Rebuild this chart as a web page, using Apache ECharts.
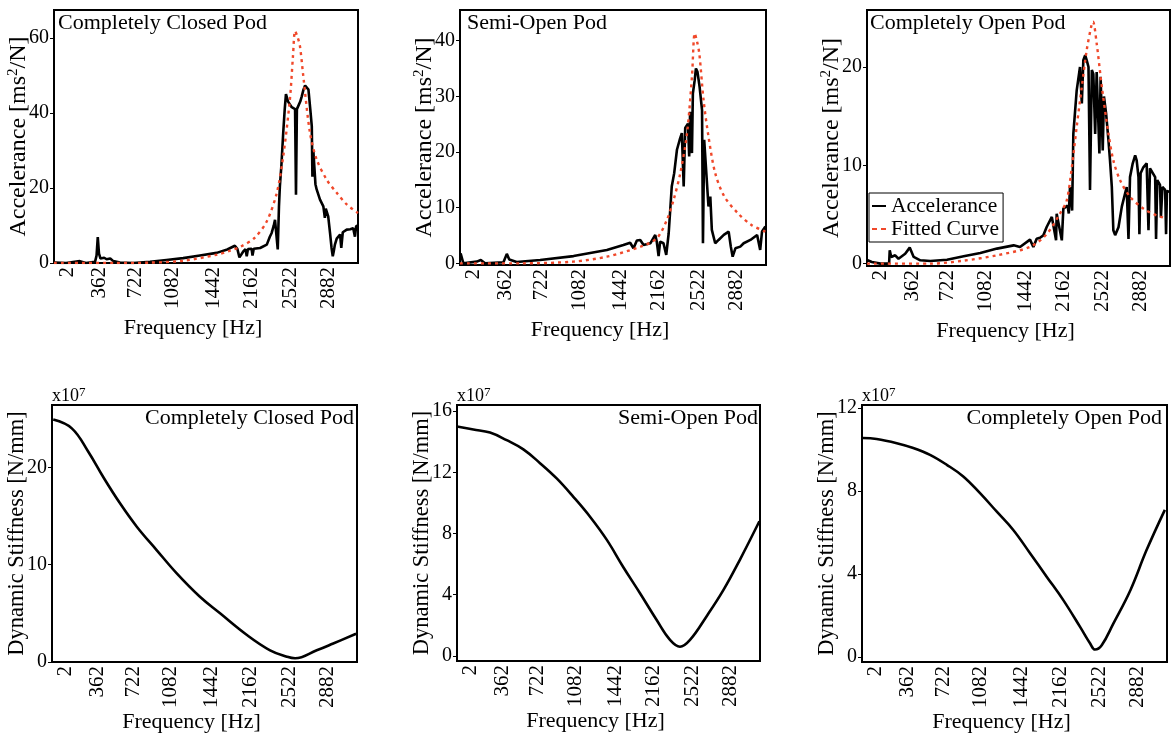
<!DOCTYPE html>
<html>
<head>
<meta charset="utf-8">
<script src="https://cdn.jsdelivr.net/npm/echarts@6/dist/echarts.min.js"></script>
<style>
  html, body { margin: 0; padding: 0; background: #fff; }
  #chart { width: 1174px; height: 735px; }
</style>
</head>
<body>
<div id="chart"></div>
<script>
// Frequency axis: sweep position (0-100) with the printed tick labels
const X_TICK_POS = [4.4, 15.0, 26.7, 39.0, 52.3, 65.0, 77.8, 90.3];
const X_TICK_LABELS = ['2', '362', '722', '1082', '1442', '2162', '2522', '2882'];

const PANEL_TITLES = ['Completely Closed Pod', 'Semi-Open Pod', 'Completely Open Pod'];

// Accelerance [ms^2/N] – measured (black) and fitted (red)
const closedAcc = [[0.3,0.1],[4,0],[8.5,0.5],[10.5,0],[13.5,0.3],[14.0,2.0],[14.4,6.9],[14.8,2.5],[15.3,1.2],[16.5,1.4],[17.3,1.0],[18.5,1.2],[19.5,0.5],[21.7,0.1],[26,0],[31.6,0.3],[37,0.8],[42.5,1.3],[48,2.0],[53.5,2.7],[57,3.6],[59.5,4.6],[60.3,3.8],[61.0,1.5],[61.5,1.1],[62.2,3.0],[63.0,3.7],[63.4,1.8],[63.8,3.7],[65,3.8],[65.3,2.0],[65.7,3.8],[67.8,4.0],[70.0,4.9],[71.0,7.0],[71.6,8.0],[72.3,10],[72.7,11.5],[73.2,12],[73.6,3.6],[74.0,15],[74.3,20.4],[74.8,26],[75.4,34.7],[75.9,41],[76.3,45],[77.0,43],[77.6,42.5],[78.2,41.5],[78.7,41.8],[79.3,41],[79.6,18.2],[79.9,41],[80.4,41],[81.0,43],[81.5,44.4],[82.0,46],[82.6,47.3],[83.1,47],[83.7,46.2],[84.3,41],[84.8,36.4],[85.0,23],[85.3,30],[86.0,21],[86.4,19.6],[87.5,16.9],[88.6,15.1],[89.1,12],[89.4,14.5],[90.2,12.4],[90.8,8],[91.3,4],[91.7,1.8],[92.0,3],[92.4,4.9],[93,6.5],[94.1,7.6],[94.5,4.0],[95,8.2],[96.3,8.9],[97.5,9.0],[98.4,9.3],[99.0,7],[99.4,9.8],[100,10]];
const closedFit = [[0,0],[20,0],[31.6,0.1],[42.5,0.6],[53.5,2.2],[58,3.3],[61.5,4.4],[66,6.7],[70,11.1],[73.3,18.7],[75.4,28.4],[77.6,43.6],[78.6,55],[79.3,61.8],[80.0,60.5],[80.9,57.8],[82.0,49.8],[84.2,34.7],[86.4,27.6],[89.7,22.2],[93,18.7],[96.3,15.6],[100,13.3]];

const semiAcc = [[0.2,1.8],[1.1,0],[5.5,0.3],[6.8,0.6],[8.2,0],[14.2,0.2],[15.3,1.7],[16.1,0.7],[18.5,0.25],[26.2,0.6],[37.1,1.3],[48.0,2.4],[53.4,3.3],[55.6,3.7],[56.7,2.7],[57.8,4.1],[58.9,4.2],[60.0,3.3],[62.2,3.6],[63.8,5.1],[64.3,3.9],[64.9,1.3],[65.4,3.9],[66.5,3.6],[67.4,1.5],[68.2,5.4],[69.2,13.8],[70.0,16.2],[70.9,20.4],[71.8,22.2],[72.5,23.4],[73.1,13.8],[73.6,24.3],[74.5,25.1],[74.9,19.2],[75.2,27.2],[75.8,19.8],[76.1,30.5],[76.7,32.9],[77.1,35],[77.6,34.4],[78.3,31.7],[79.1,27.5],[79.4,3.6],[79.8,22.2],[80.5,16.2],[81.2,10.2],[81.8,12],[82.3,6],[83.4,3.6],[84.5,4.2],[86.2,5.1],[87.8,5.7],[88.5,3],[89.1,1.2],[90.0,2.7],[91.6,3],[92.7,3.6],[94.9,4.2],[97.1,5.1],[98.1,2.4],[98.7,5.7],[99.8,6.6]];
const semiFit = [[0,0],[20,0],[37,0.3],[48,1.2],[59,3],[64.3,4.5],[67.6,7.8],[69.8,11.4],[72,16.2],[74.2,23.4],[75.8,33.5],[76.7,41.3],[77.4,40],[78.2,37.7],[79.6,29.3],[81.2,22.8],[83.4,16.2],[86.4,12],[90.8,9],[95.2,6.9],[99.8,5.7]];

const openAcc = [[0.2,0.34],[1.6,0.17],[4.4,0],[6.6,0],[7.3,0.07],[7.5,1.36],[8.0,0.68],[9.3,0.85],[10.4,0.5],[12.6,1.0],[14.1,1.63],[15.4,0.68],[17.6,0.34],[20.9,0.27],[26.4,0.4],[31.9,0.75],[37.4,1.08],[42.9,1.53],[48.4,1.86],[50.5,1.7],[53.8,2.44],[54.9,1.7],[56.0,2.54],[57.1,2.64],[58.2,2.88],[59.3,3.73],[61.0,4.75],[62.4,2.37],[62.6,5.08],[64.3,2.37],[64.8,5.6],[66.2,5.9],[66.6,5.1],[67.0,7.8],[67.7,5.4],[68.1,13.2],[69.2,17.6],[70.3,20],[70.9,16.3],[71.4,20.7],[72.0,21.2],[72.5,20.7],[73.1,20],[73.6,7.5],[74.2,19.7],[74.7,19.3],[75.3,13.2],[75.8,19.5],[76.4,19.7],[76.7,11.2],[77.1,19],[77.8,11.5],[78.2,17],[78.9,15.3],[79.7,12.5],[80.2,10.5],[80.8,7.8],[81.3,3.4],[81.9,2.9],[82.4,3],[83.0,3.7],[84.1,5.8],[85.7,7.8],[86.3,2.5],[86.8,8.8],[87.7,10.2],[88.5,11],[89.0,10.5],[89.6,8.8],[89.9,3],[90.3,9.2],[91.2,9.8],[92.3,10.2],[92.9,3.4],[93.4,9.7],[95.1,8.8],[95.4,2.5],[95.8,8.5],[96.7,8],[97.0,4.7],[97.5,7.8],[98.4,7.5],[98.7,3],[99.0,7.4],[99.8,7.3]];
const openFit = [[0,0],[20.9,0],[31.9,0.3],[42.9,0.85],[53.8,1.7],[59.3,3],[63.7,5.1],[65.9,6.4],[67.6,9.8],[69.2,13.9],[70.9,18],[72.5,21.7],[74.2,24.4],[74.6,24.6],[75.8,22.4],[77.5,18],[79.7,13.2],[81.3,10.5],[83.5,8.5],[86.8,6.8],[91.2,5.6],[95.6,4.9],[98.9,4.6]];

// Dynamic stiffness [N/mm] in units of 1e7
const closedStiff = [[0.4,24.9],[6.5,24.0],[11.9,21.6],[16.8,19.0],[22.3,16.3],[27.8,13.9],[34.3,11.5],[40.9,9.1],[48.5,6.7],[55.1,5.0],[63.8,2.8],[71.5,1.2],[77.0,0.55],[79.7,0.38],[86.8,1.2],[92.2,1.9],[99.7,2.9]];
const semiStiff = [[0,15.0],[5.4,14.8],[10.9,14.6],[16.4,14.1],[21.9,13.5],[27.4,12.6],[32.9,11.6],[38.4,10.4],[43.9,9.1],[49.4,7.6],[54.9,5.8],[60.4,4.1],[65.9,2.35],[70.3,1.05],[73.6,0.6],[76.9,1.05],[82.4,2.6],[87.9,4.3],[93.4,6.3],[99.8,8.8]];
const openStiff = [[0.2,10.55],[4.8,10.5],[11.4,10.3],[16.8,10.07],[22.3,9.74],[27.8,9.26],[33.2,8.7],[38.7,7.89],[44.2,7.0],[49.6,6.12],[55.1,5.0],[60.6,3.86],[66.0,2.74],[71.5,1.45],[74.8,0.65],[76.4,0.36],[78.6,0.57],[82.4,1.61],[88.0,3.22],[93.3,5.15],[99.3,7.09]];

// y-axis ranges and ticks per panel
const Y_TICKS = [[0,20,40,60],[0,10,20,30,40],[0,10,20],[0,10,20],[0,4,8,12,16],[0,4,8,12]];
const Y_RANGE = [[0,67.4],[-0.3,45.5],[-0.24,25.8],[0,26.4],[-0.33,16.4],[-0.24,12.14]];

const FONT = 'Liberation Serif';
const RED = '#f0482a';

const GRIDS = [
  {left: 54, top: 10, width: 304, height: 253},
  {left: 460, top: 10, width: 306, height: 255},
  {left: 867, top: 10, width: 303, height: 256},
  {left: 52, top: 405, width: 305, height: 257},
  {left: 457, top: 405, width: 303, height: 256},
  {left: 862, top: 405, width: 305, height: 257}
];

function xLabel(v) {
  let best = 0;
  for (let i = 1; i < X_TICK_POS.length; i++) {
    if (Math.abs(X_TICK_POS[i] - v) < Math.abs(X_TICK_POS[best] - v)) best = i;
  }
  return X_TICK_LABELS[best];
}

const accName = '{n|Accelerance [ms}{s|2}{n|/N]}';
const stiffName = '{m|Dynamic Stiffness [N/mm]}';
const nameRich = {
  n: {fontFamily: FONT, fontSize: 24, color: '#000', lineHeight: 26},
  m: {fontFamily: FONT, fontSize: 22.5, color: '#000', lineHeight: 26},
  s: {fontFamily: FONT, fontSize: 15, color: '#000', verticalAlign: 'top', lineHeight: 26}
};

const xAxes = GRIDS.map((g, i) => ({
  type: 'value', gridIndex: i, min: 0, max: 100,
  axisLine: {show: false}, splitLine: {show: false}, axisTick: {show: false},
  axisLabel: {
    customValues: X_TICK_POS, rotate: 90, formatter: xLabel, margin: 4,
    fontFamily: FONT, fontSize: 21, color: '#000'
  },
  name: 'Frequency [Hz]', nameLocation: 'middle', nameGap: i < 3 ? 54 : 49,
  nameMoveOverlap: false,
  nameTextStyle: {fontFamily: FONT, fontSize: 22, color: '#000', padding: [0, 26, 0, 0]}
}));

const yAxes = GRIDS.map((g, i) => ({
  type: 'value', gridIndex: i, min: Y_RANGE[i][0], max: Y_RANGE[i][1],
  axisLine: {show: false}, splitLine: {show: false},
  axisTick: {show: true, length: 4, customValues: Y_TICKS[i], lineStyle: {color: '#000', width: 1}},
  axisLabel: {customValues: Y_TICKS[i], margin: 5, fontFamily: FONT, fontSize: 20, color: '#000'},
  name: i < 3 ? accName : stiffName, nameLocation: 'middle', nameGap: 22,
  nameMoveOverlap: false,
  nameTextStyle: {rich: nameRich}
}));

function lineSeries(name, data, idx, color, dashed, smooth) {
  return {
    type: 'line', name: name, xAxisIndex: idx, yAxisIndex: idx, data: data,
    symbol: 'none', showSymbol: false, smooth: smooth,
    animation: false,
    lineStyle: {color: color, width: dashed ? 2.4 : 2.6, type: dashed ? [3, 4] : 'solid'},
    itemStyle: {color: color}
  };
}

const series = [
  lineSeries('Accelerance', closedAcc, 0, '#000', false, false),
  lineSeries('Fitted Curve', closedFit, 0, RED, true, 0.3),
  lineSeries('Accelerance', semiAcc, 1, '#000', false, false),
  lineSeries('Fitted Curve', semiFit, 1, RED, true, 0.3),
  lineSeries('Accelerance', openAcc, 2, '#000', false, false),
  lineSeries('Fitted Curve', openFit, 2, RED, true, 0.3),
  lineSeries('Stiffness', closedStiff, 3, '#000', false, 0.4),
  lineSeries('Stiffness', semiStiff, 4, '#000', false, 0.4),
  lineSeries('Stiffness', openStiff, 5, '#000', false, 0.4)
];

const titleStyle = {fontFamily: FONT, fontSize: 22, fontWeight: 'normal', color: '#000', lineHeight: 22};
const titles = [
  {text: PANEL_TITLES[0], left: 58, top: 12},
  {text: PANEL_TITLES[1], left: 467, top: 12},
  {text: PANEL_TITLES[2], left: 870, top: 12},
  {text: PANEL_TITLES[0], right: 1174 - 354, top: 407},
  {text: PANEL_TITLES[1], right: 1174 - 758, top: 407},
  {text: PANEL_TITLES[2], right: 1174 - 1162, top: 407}
].map(t => Object.assign({padding: 0, textStyle: titleStyle}, t));

// exponent marker above each stiffness panel
const expRich = {
  a: {fontFamily: FONT, fontSize: 18, fontWeight: 'normal', color: '#000', lineHeight: 20},
  b: {fontFamily: FONT, fontSize: 13, fontWeight: 'normal', color: '#000', verticalAlign: 'top', lineHeight: 20}
};
[52, 457, 862].forEach(l => titles.push({
  text: '{a|x10}{b|7}', left: l, top: 386, padding: 0,
  textStyle: {fontWeight: 'normal', rich: expRich}
}));

const chart = echarts.init(document.getElementById('chart'), null, {renderer: 'canvas'});
chart.setOption({
  backgroundColor: '#fff',
  animation: false,
  title: titles,
  grid: GRIDS.map(g => Object.assign({show: true, borderColor: '#000', borderWidth: 2, backgroundColor: 'transparent'}, g)),
  xAxis: xAxes,
  yAxis: yAxes,
  legend: {
    data: [
      {name: 'Accelerance', icon: 'path://M0,0H14V2H0Z'},
      {name: 'Fitted Curve', icon: 'path://M0,0H5V2H0Z M9,0H14V2H9Z'}
    ],
    orient: 'vertical', left: 869, top: 193,
    itemGap: 1, itemWidth: 14, itemHeight: 2,
    padding: [2, 4, 2, 3],
    borderColor: '#000', borderWidth: 1, backgroundColor: '#fff',
    textStyle: {fontFamily: FONT, fontSize: 21.5, color: '#000', lineHeight: 21}
  },
  series: series
});
</script>
</body>
</html>
